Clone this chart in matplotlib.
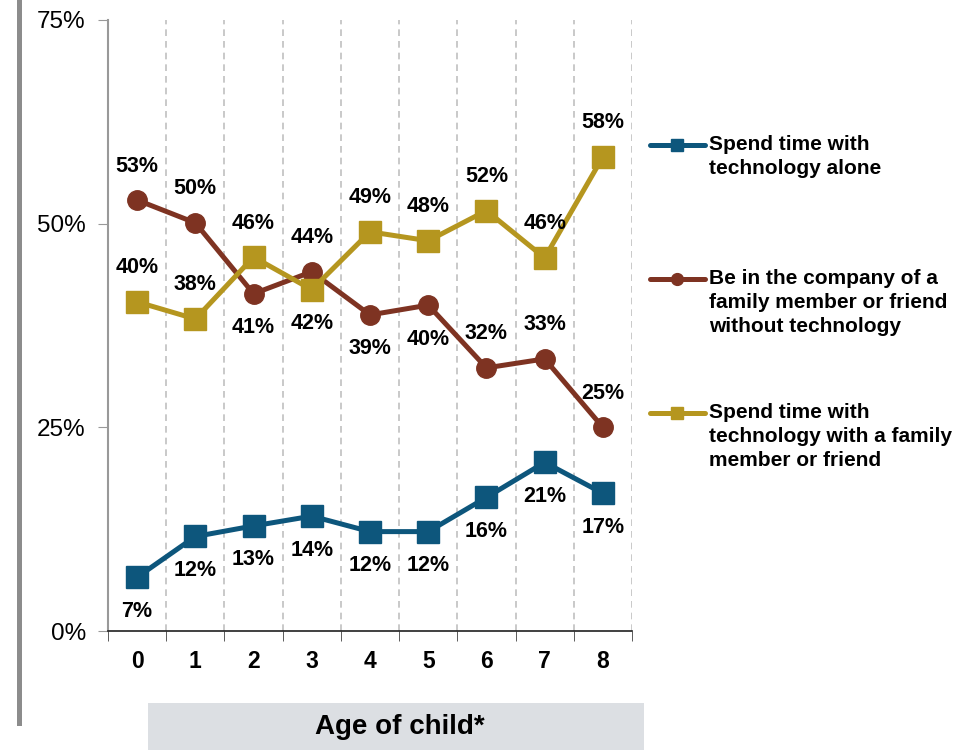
import matplotlib.pyplot as plt
from matplotlib.lines import Line2D
from matplotlib.patches import Rectangle

plt.rcParams['font.family'] = ['Liberation Sans', 'DejaVu Sans']

ages = ['0', '1', '2', '3', '4', '5', '6', '7', '8']
alone = [6.6, 11.6, 12.9, 14.1, 12.2, 12.2, 16.4, 20.7, 16.9]
company = [52.9, 50.1, 41.4, 44.1, 38.8, 40.0, 32.3, 33.4, 25.0]
family = [40.4, 38.3, 45.9, 41.9, 49.0, 47.9, 51.6, 45.8, 58.2]

# label above (1) or below (-1) the point
alone_pos = [-1, -1, -1, -1, -1, -1, -1, -1, -1]
company_pos = [1, 1, -1, 1, -1, -1, 1, 1, 1]
family_pos = [1, 1, 1, -1, 1, 1, 1, 1, 1]

names = ['Spend time with\ntechnology alone',
         'Be in the company of a\nfamily member or friend\nwithout technology',
         'Spend time with\ntechnology with a family\nmember or friend']
colors = ['#0d567c', '#7e3322', '#b5961f']
markers = ['s', 'o', 's']
msizes = [15.5, 14, 15.5]

fig = plt.figure(figsize=(9.59, 7.5), dpi=100)
ax = fig.add_axes([108/959, 119/750, 524/959, 611/750])

x = list(range(len(ages)))
series = [(alone, alone_pos), (company, company_pos), (family, family_pos)]
for i, (vals, pos) in enumerate(series):
    ax.plot(x, vals, color=colors[i], lw=3.6, marker=markers[i],
            ms=msizes[i], zorder=3 + i)
    for xi, v, p in zip(x, vals, pos):
        ax.annotate(f'{round(v)}%', (xi, v), xytext=(0, 24.5 * p),
                    textcoords='offset points', ha='center', va='center',
                    fontsize=15.5, fontweight='bold', color='black', zorder=10)

ax.set_xlim(-0.5, 8.5)
ax.set_ylim(0, 75)
ax.set_yticks([0, 25, 50, 75])
ax.set_yticklabels(['0%', '25%', '50%', '75%'], fontsize=17.5)
ax.set_xticks(x)
ax.set_xticklabels(ages, fontsize=16.5, fontweight='bold')
ax.tick_params(axis='x', length=0, pad=14)
ax.set_xticks([k - 0.5 for k in range(10)], minor=True)
ax.tick_params(axis='x', which='minor', length=7, color='#404040', direction='out')
ax.tick_params(axis='y', length=7, color='#999999', pad=9)

for k in range(1, 10):
    ax.axvline(k - 0.5, color='#c0c0c0', lw=1.2, ls=(0, (4, 3)), zorder=1)

for s in ['top', 'right']:
    ax.spines[s].set_visible(False)
ax.spines['left'].set_color('#999999')
ax.spines['left'].set_linewidth(1.5)
ax.spines['bottom'].set_color('#202020')
ax.spines['bottom'].set_linewidth(1.2)

# legend drawn by hand on the right
leg_y = [145, 279, 413]
for i in range(3):
    yf = 1 - leg_y[i] / 750
    fig.add_artist(Line2D([650/959, 705/959], [yf, yf], color=colors[i], lw=3.6,
                          solid_capstyle='round'))
    fig.add_artist(Line2D([677/959], [yf], color=colors[i], marker=markers[i],
                          ms=9 if markers[i] == 's' else 8.5, lw=0))
    fig.text(709/959, yf + 10/750, names[i], ha='left', va='top', fontsize=15,
             fontweight='bold', linespacing=1.32)

# left gray bar and axis title box
fig.add_artist(Rectangle((17/959, 1 - 726/750), 5/959, 726/750,
                         transform=fig.transFigure, color='#8c8c8c', lw=0))
fig.add_artist(Rectangle((148/959, 0), 496/959, 47/750,
                         transform=fig.transFigure, color='#dcdfe3', lw=0))
fig.text(400/959, 1 - 727/750, 'Age of child*', ha='center', va='center',
         fontsize=20, fontweight='bold')

fig.savefig('out.png', dpi=100)
